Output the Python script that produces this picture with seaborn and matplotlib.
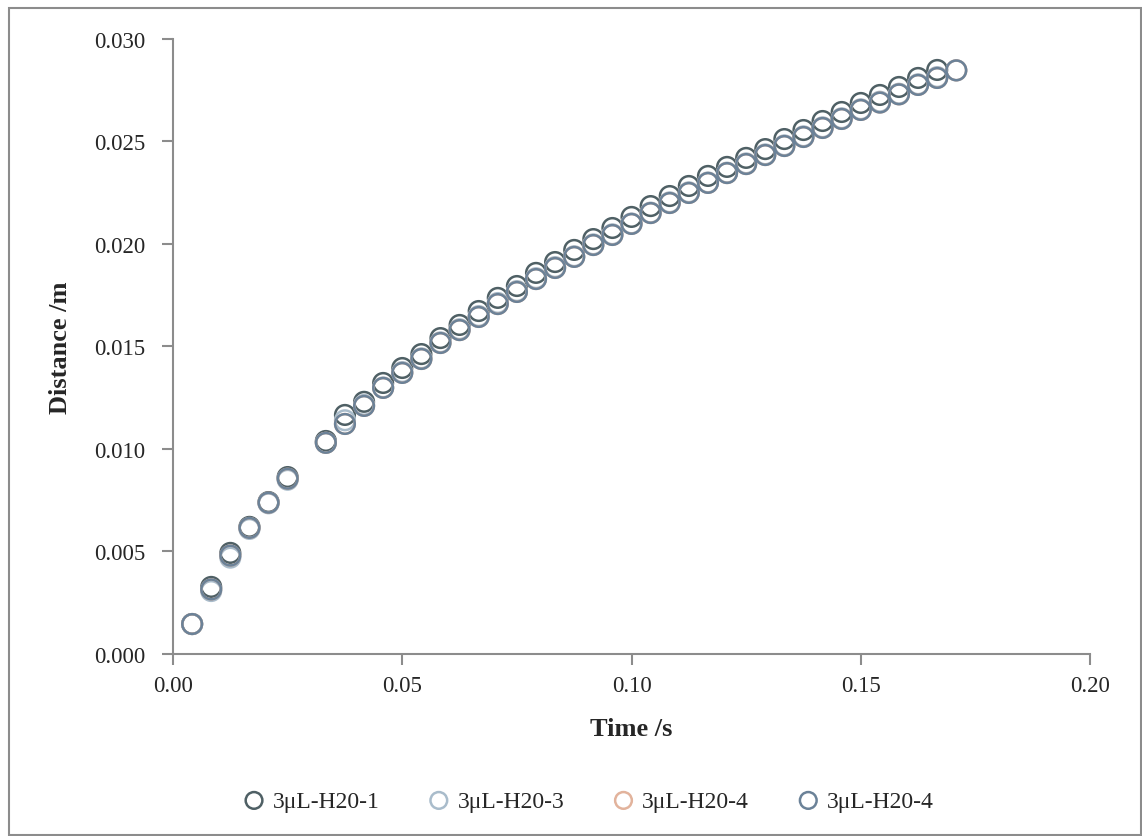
import matplotlib
matplotlib.use("Agg")
import matplotlib.pyplot as plt
import seaborn as sns
from matplotlib.patches import Rectangle

# frame index k at 240 fps (frame 7 missing)
time_s = [0.00417, 0.00833, 0.0125, 0.01667, 0.02083, 0.025, 0.03333, 0.0375,
          0.04167, 0.04583, 0.05, 0.05417, 0.05833, 0.0625, 0.06667, 0.07083,
          0.075, 0.07917, 0.08333, 0.0875, 0.09167, 0.09583, 0.1, 0.10417,
          0.10833, 0.1125, 0.11667, 0.12083, 0.125, 0.12917, 0.13333, 0.1375,
          0.14167, 0.14583, 0.15, 0.15417, 0.15833, 0.1625, 0.16667, 0.17083]

dist_1 = [0.00146, 0.00327, 0.00493, 0.00620, 0.00741, 0.00863, 0.01039, 0.01166,
          0.01230, 0.01322, 0.01395, 0.01463, 0.01541, 0.01605, 0.01673, 0.01737,
          0.01795, 0.01859, 0.01912, 0.01971, 0.02024, 0.02078, 0.02132, 0.02185,
          0.02234, 0.02283, 0.02332, 0.02376, 0.02420, 0.02463, 0.02512, 0.02556,
          0.02600, 0.02644, 0.02688, 0.02727, 0.02766, 0.02810, 0.02849, None]

dist_3 = [0.00146, 0.00307, 0.00470, 0.00610, 0.00735, 0.00850, 0.01030, 0.01140,
          0.01215, 0.01300, 0.01375, 0.01442, 0.01520, 0.01584, 0.01648, 0.01712,
          0.01770, 0.01833, 0.01887, 0.01940, 0.01998, 0.02047, 0.02100, 0.02153,
          0.02203, 0.02252, 0.02300, 0.02348, 0.02393, 0.02437, 0.02481, 0.02525,
          0.02569, 0.02613, 0.02657, 0.02694, 0.02733, 0.02779, 0.02814, 0.02847]

dist_4 = [0.00146, 0.00315, 0.00480, 0.00615, 0.00738, 0.00855, 0.01030, 0.01122,
          0.01210, 0.01298, 0.01371, 0.01439, 0.01517, 0.01580, 0.01644, 0.01707,
          0.01766, 0.01829, 0.01883, 0.01937, 0.01995, 0.02044, 0.02098, 0.02151,
          0.02200, 0.02249, 0.02298, 0.02346, 0.02390, 0.02434, 0.02478, 0.02522,
          0.02566, 0.02610, 0.02654, 0.02690, 0.02730, 0.02776, 0.02810, 0.02847]

labels = ["3μL-H20-1", "3μL-H20-3", "3μL-H20-4", "3μL-H20-4"]
colors = ["#4f6065", "#a9bccb", "#e2b39c", "#6b8298"]
series = [dist_1, dist_3, dist_4, dist_4]

sns.set_style("white")
plt.rcParams['font.family'] = ['Liberation Serif', 'DejaVu Serif']

fig = plt.figure(figsize=(11.42, 8.37), dpi=100)
ax = fig.add_axes([0.1515, 0.2175, 0.8030, 0.7347])

for ys, lab, col in zip(series, labels, colors):
    xs = [t for t, y in zip(time_s, ys) if y is not None]
    yv = [y for y in ys if y is not None]
    sns.scatterplot(x=xs, y=yv, ax=ax, label=lab, s=200, marker="o",
                    facecolors="none", edgecolor=col, linewidth=1.8)

ax.set_xlim(0, 0.20)
ax.set_ylim(0, 0.030)
ax.set_xticks([0, 0.05, 0.10, 0.15, 0.20])
ax.set_xticklabels([f"{v:.2f}" for v in [0, 0.05, 0.10, 0.15, 0.20]])
ax.set_yticks([0, 0.005, 0.010, 0.015, 0.020, 0.025, 0.030])
ax.set_yticklabels([f"{v:.3f}" for v in [0, 0.005, 0.010, 0.015, 0.020, 0.025, 0.030]])

for side in ["top", "right"]:
    ax.spines[side].set_visible(False)
for side in ["left", "bottom"]:
    ax.spines[side].set_color("#8c8c8c")
    ax.spines[side].set_linewidth(1.5)
ax.tick_params(axis="both", direction="out", length=8, width=1.5, color="#8c8c8c",
               labelsize=16.5, pad=7, left=True, bottom=True)
ax.tick_params(axis="y", pad=12)

ax.set_xlabel("Time /s", fontsize=19, fontweight="bold", labelpad=15)
ax.set_ylabel("Distance /m", fontsize=19, fontweight="bold", labelpad=16)

leg = ax.legend(loc="center", bbox_to_anchor=(0.515, 0.042), bbox_transform=fig.transFigure,
                ncol=4, frameon=False, fontsize=17, handlelength=1.0, handletextpad=0.3,
                columnspacing=2.0, markerscale=0.85)

fig.patches.append(Rectangle((0.008, 0.001), 0.991, 0.988, transform=fig.transFigure,
                             fill=False, edgecolor="#8c8c8c", linewidth=1.5))

fig.savefig("out.png", dpi=100)
